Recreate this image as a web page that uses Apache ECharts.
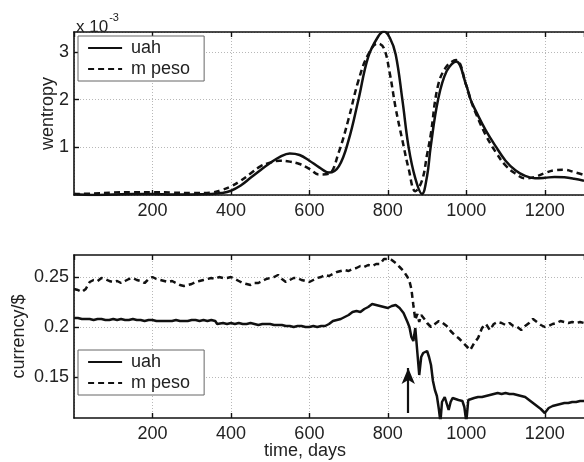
<!DOCTYPE html>
<html>
<head>
<meta charset="utf-8">
<title>wentropy and currency</title>
<script src="https://cdn.jsdelivr.net/npm/echarts@6/dist/echarts.min.js"></script>
<style>
  html, body { margin: 0; padding: 0; background: #fff; }
  #main { width: 584px; height: 462px; }
</style>
</head>
<body>
<div id="main"></div>
<script>
// top panel: wavelet entropy (x 10^-3)
var wentDays = [0,50,100,150,200,250,300,350,375,400,425,450,475,500,525,550,575,600,625,650,675,700,725,750,775,790,805,820,837,853,870,887,900,909,928,950,974,1000,1011,1025,1050,1075,1100,1125,1150,1175,1200,1225,1250,1275,1300];
var uahWent = [0.02,0.0,0.01,0.02,0.02,0.01,0.01,0.02,0.04,0.09,0.2,0.36,0.52,0.67,0.8,0.87,0.84,0.72,0.58,0.47,0.6,1.15,2.0,2.9,3.32,3.43,3.3,2.95,2.0,1.0,0.35,0.02,0.4,1.0,2.0,2.6,2.8,2.3,2.0,1.75,1.35,1.02,0.72,0.52,0.4,0.35,0.36,0.38,0.37,0.34,0.3];
var pesoWent = [0.02,0.03,0.05,0.06,0.06,0.05,0.04,0.05,0.1,0.18,0.3,0.45,0.6,0.68,0.72,0.7,0.65,0.55,0.43,0.45,0.9,1.6,2.4,2.95,3.18,3.08,2.55,1.82,1.15,0.55,0.08,0.3,0.85,1.25,2.3,2.7,2.83,2.3,2.0,1.7,1.25,0.9,0.62,0.45,0.35,0.38,0.46,0.52,0.53,0.48,0.42];

// bottom panel: exchange rates
var uahDays = [0,10,20,30,40,50,60,70,80,90,100,110,120,130,140,150,160,170,180,190,200,210,220,230,240,250,260,270,280,290,300,310,320,330,340,350,360,365,370,380,390,400,410,420,430,440,450,460,470,480,490,500,510,520,530,540,550,560,570,580,590,600,610,620,630,640,650,660,670,680,690,700,710,720,730,740,750,760,770,780,790,800,810,820,830,840,850,855,860,865,870,875,880,885,890,895,900,905,910,915,920,925,930,934,938,945,950,955,960,965,970,980,990,995,1000,1005,1010,1020,1030,1040,1050,1060,1070,1080,1090,1100,1110,1120,1130,1140,1150,1160,1170,1180,1190,1200,1205,1210,1220,1230,1240,1250,1260,1270,1280,1290,1300];
var uahRate = [0.209,0.209,0.208,0.208,0.208,0.207,0.208,0.208,0.207,0.207,0.208,0.207,0.208,0.207,0.207,0.208,0.207,0.207,0.206,0.207,0.207,0.206,0.206,0.206,0.206,0.206,0.207,0.206,0.206,0.206,0.207,0.207,0.206,0.207,0.206,0.207,0.206,0.203,0.203,0.204,0.203,0.204,0.203,0.204,0.203,0.203,0.204,0.203,0.202,0.203,0.203,0.203,0.202,0.202,0.202,0.201,0.201,0.200,0.201,0.201,0.200,0.200,0.201,0.200,0.201,0.201,0.203,0.206,0.207,0.208,0.210,0.212,0.215,0.216,0.215,0.218,0.220,0.223,0.222,0.221,0.220,0.219,0.221,0.222,0.219,0.214,0.205,0.200,0.190,0.186,0.199,0.197,0.152,0.170,0.174,0.176,0.176,0.170,0.162,0.146,0.137,0.131,0.118,0.105,0.125,0.130,0.128,0.117,0.125,0.129,0.127,0.127,0.126,0.120,0.105,0.127,0.128,0.129,0.130,0.130,0.131,0.132,0.133,0.134,0.133,0.134,0.133,0.133,0.132,0.131,0.130,0.127,0.124,0.121,0.118,0.114,0.116,0.119,0.121,0.122,0.123,0.124,0.124,0.125,0.125,0.126,0.126];
var pesoDays = [0,10,20,30,40,50,60,70,80,90,100,110,120,130,140,150,160,170,180,190,200,210,220,230,240,250,260,270,280,290,300,310,320,330,340,350,360,370,380,390,400,410,420,430,440,450,460,470,480,490,500,510,520,530,540,550,560,570,580,590,600,610,620,630,640,650,660,670,680,690,700,710,720,730,740,750,760,770,780,790,795,800,810,820,830,840,850,855,860,865,870,875,880,885,890,895,900,910,920,930,940,950,960,970,980,990,1000,1010,1015,1020,1030,1040,1050,1060,1070,1080,1090,1100,1110,1120,1130,1140,1150,1160,1170,1180,1190,1200,1210,1220,1230,1240,1250,1260,1270,1280,1290,1300];
var pesoRate = [0.238,0.237,0.235,0.238,0.245,0.247,0.246,0.249,0.248,0.246,0.245,0.246,0.244,0.246,0.248,0.249,0.247,0.246,0.244,0.248,0.250,0.248,0.247,0.246,0.245,0.246,0.244,0.242,0.241,0.242,0.243,0.245,0.246,0.247,0.248,0.249,0.248,0.250,0.249,0.249,0.250,0.248,0.246,0.244,0.243,0.242,0.244,0.244,0.246,0.248,0.249,0.250,0.252,0.248,0.245,0.247,0.249,0.249,0.247,0.246,0.245,0.247,0.249,0.250,0.252,0.251,0.253,0.255,0.256,0.257,0.256,0.258,0.259,0.261,0.260,0.262,0.261,0.263,0.263,0.268,0.270,0.268,0.267,0.264,0.260,0.256,0.250,0.246,0.238,0.222,0.207,0.213,0.205,0.212,0.210,0.207,0.204,0.200,0.203,0.206,0.204,0.201,0.196,0.192,0.189,0.185,0.181,0.177,0.179,0.184,0.189,0.199,0.203,0.197,0.203,0.205,0.204,0.202,0.204,0.201,0.200,0.197,0.201,0.204,0.208,0.205,0.202,0.200,0.201,0.203,0.204,0.206,0.205,0.204,0.205,0.204,0.205,0.204];

var arrowDay = 852;
var arrowFrom = 0.114, arrowTo = 0.159;

function pairs(xs, ys) {
    var out = [];
    for (var i = 0; i < xs.length; i++) out.push([xs[i], ys[i]]);
    return out;
}

var font = 'Liberation Sans, Arial, Helvetica, sans-serif';
var axisCol = '#111';
var gridCol = '#b8b8b8';

function xAx(gi, pos, labels) {
    return {
        type: 'value', gridIndex: gi, position: pos, min: 0, max: 1300, interval: 200,
        axisLine: { show: true, lineStyle: { color: axisCol, width: 1.6 } },
        axisTick: { show: true, inside: true, length: 5, lineStyle: { color: axisCol, width: 1.4 } },
        axisLabel: {
            show: labels, color: '#222', fontFamily: font, fontSize: 18, margin: 7,
            showMinLabel: false, showMaxLabel: false,
            formatter: function (v) { return v === 0 ? '' : String(v); }
        },
        splitLine: { show: labels, lineStyle: { color: gridCol, type: [1, 2], width: 1 } }
    };
}

function legendAt(top) {
    return {
        data: ['uah', 'm peso'], orient: 'vertical', left: 78, top: top,
        borderColor: '#666', borderWidth: 1, backgroundColor: '#fff',
        padding: [3, 14, 3, 9], itemGap: 3, itemWidth: 34, itemHeight: 17,
        itemStyle: { opacity: 0 },
        lineStyle: { width: 2.2 },
        textStyle: { fontFamily: font, fontSize: 18, color: '#222', padding: [0, 0, 0, 4] }
    };
}

var chart = echarts.init(document.getElementById('main'));
chart.setOption({
    animation: false,
    backgroundColor: '#fff',
    title: [
        {
            text: '{a|x 10}{b|-3}', left: 71, top: 7,
            textStyle: { rich: {
                a: { fontFamily: font, fontSize: 17, fontWeight: 'normal', color: '#222', padding: [7, 0, 0, 0] },
                b: { fontFamily: font, fontSize: 11, fontWeight: 'normal', color: '#222', verticalAlign: 'top', padding: [0, 0, 7, 1] }
            } }
        },
        {
            text: 'time, days', left: 259, top: 437,
            textStyle: { fontFamily: font, fontSize: 18, fontWeight: 'normal', color: '#222' }
        }
    ],
    grid: [
        { left: 74, top: 32, height: 163, right: -13 },
        { left: 74, top: 255, height: 163, right: -13 }
    ],
    legend: [legendAt(36), legendAt(350)],
    xAxis: [
        xAx(0, 'bottom', true), xAx(0, 'top', false),
        xAx(1, 'bottom', true), xAx(1, 'top', false)
    ],
    yAxis: [
        {
            type: 'value', gridIndex: 0, min: 0, max: 3.42, interval: 1,
            name: 'wentropy', nameLocation: 'middle', nameGap: 17, nameMoveOverlap: false,
            nameTextStyle: { fontFamily: font, fontSize: 18, color: '#222' },
            axisLine: { show: true, lineStyle: { color: axisCol, width: 1.6 } },
            axisTick: { show: true, inside: true, length: 5, lineStyle: { color: axisCol, width: 1.4 } },
            axisLabel: { color: '#222', fontFamily: font, fontSize: 18, margin: 5, showMinLabel: false, showMaxLabel: false },
            splitLine: { show: true, lineStyle: { color: gridCol, type: [1, 2], width: 1 } }
        },
        {
            type: 'value', gridIndex: 1, min: 0.109, max: 0.272,
            name: 'currency/$', nameLocation: 'middle', nameGap: 46, nameMoveOverlap: false,
            nameTextStyle: { fontFamily: font, fontSize: 18, color: '#222' },
            axisLine: { show: true, lineStyle: { color: axisCol, width: 1.6 } },
            axisTick: { show: true, inside: true, length: 5, customValues: [0.15, 0.2, 0.25], lineStyle: { color: axisCol, width: 1.4 } },
            axisLabel: { color: '#222', fontFamily: font, fontSize: 18, margin: 5, customValues: [0.15, 0.2, 0.25] },
            splitLine: { show: true, lineStyle: { color: gridCol, type: [1, 2], width: 1 } }
        }
    ],
    series: [
        {
            name: 'uah', type: 'line', xAxisIndex: 0, yAxisIndex: 0, data: pairs(wentDays, uahWent),
            smooth: 0.4, symbol: 'none', lineStyle: { color: '#111', width: 2.5 }, itemStyle: { color: '#111' }
        },
        {
            name: 'm peso', type: 'line', xAxisIndex: 0, yAxisIndex: 0, data: pairs(wentDays, pesoWent),
            smooth: 0.4, symbol: 'none', lineStyle: { color: '#111', width: 2.5, type: [6, 4] }, itemStyle: { color: '#111' }
        },
        {
            name: 'uah', type: 'line', xAxisIndex: 2, yAxisIndex: 1, data: pairs(uahDays, uahRate),
            symbol: 'none', lineStyle: { color: '#111', width: 2.5 }, itemStyle: { color: '#111' },
            markLine: {
                silent: true, symbol: ['none', 'arrow'], symbolSize: [10, 16],
                lineStyle: { color: '#111', width: 2.2, type: 'solid' },
                label: { show: false },
                data: [[{ coord: [arrowDay, arrowFrom] }, { coord: [arrowDay, arrowTo] }]]
            }
        },
        {
            name: 'm peso', type: 'line', xAxisIndex: 2, yAxisIndex: 1, data: pairs(pesoDays, pesoRate),
            symbol: 'none', lineStyle: { color: '#111', width: 2.5, type: [6, 4] }, itemStyle: { color: '#111' }
        }
    ]
});
</script>
</body>
</html>
